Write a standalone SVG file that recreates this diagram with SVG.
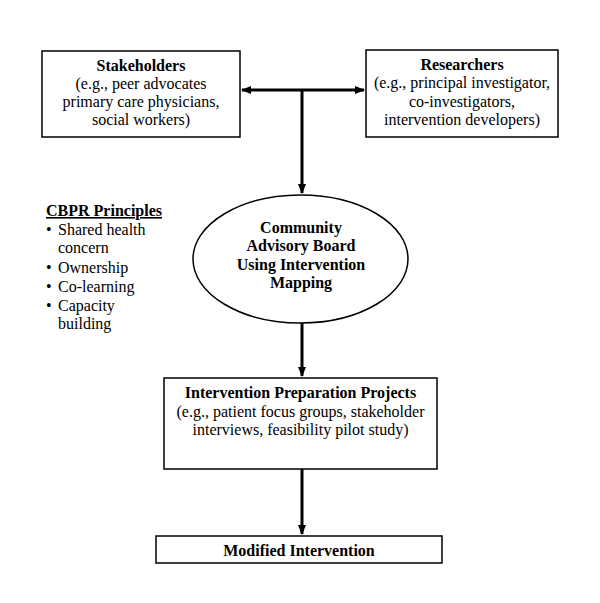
<svg xmlns="http://www.w3.org/2000/svg" width="600" height="603" viewBox="0 0 600 603">
<defs>
<marker id="ah" markerWidth="10" markerHeight="10" refX="9" refY="5" orient="auto" markerUnits="userSpaceOnUse">
<path d="M0,1 L10,5 L0,9 Z" fill="#000"/>
</marker>
<style>
.box{fill:#fff;stroke:#000;stroke-width:1.5}
.t{font-family:"Liberation Serif","Times New Roman",serif;font-size:16px;fill:#000}
.c{text-anchor:middle}
.b{font-weight:bold}
.con{stroke:#000;stroke-width:3;fill:none}
</style>
</defs>
<rect width="600" height="603" fill="#fff"/>
<g id="connectors">
<line class="con" x1="302" y1="90" x2="242" y2="90" marker-end="url(#ah)"/>
<line class="con" x1="302" y1="90" x2="364" y2="90" marker-end="url(#ah)"/>
<line class="con" x1="302" y1="90" x2="302" y2="193" marker-end="url(#ah)"/>
<line class="con" x1="302" y1="323" x2="302" y2="376" marker-end="url(#ah)"/>
<line class="con" x1="302" y1="469" x2="302" y2="534" marker-end="url(#ah)"/>
</g>
<g id="stakeholders">
<rect class="box" x="42" y="51" width="198" height="86"/>
<text class="t c b" x="141" y="71">Stakeholders</text>
<text class="t c" x="141" y="89">(e.g., peer advocates</text>
<text class="t c" x="141" y="107">primary care physicians,</text>
<text class="t c" x="141" y="125">social workers)</text>
</g>
<g id="researchers">
<rect class="box" x="366" y="50" width="192" height="87"/>
<text class="t c b" x="462" y="70">Researchers</text>
<text class="t c" x="462" y="88">(e.g., principal investigator,</text>
<text class="t c" x="462" y="107">co-investigators,</text>
<text class="t c" x="462" y="125">intervention developers)</text>
</g>
<g id="cbpr">
<text class="t b" x="46" y="216" text-decoration="underline">CBPR Principles</text>
<text class="t" x="46" y="235">•</text>
<text class="t" x="58" y="235">Shared health</text>
<text class="t" x="58" y="253">concern</text>
<text class="t" x="46" y="273">•</text>
<text class="t" x="58" y="273">Ownership</text>
<text class="t" x="46" y="292">•</text>
<text class="t" x="58" y="292">Co-learning</text>
<text class="t" x="46" y="311">•</text>
<text class="t" x="58" y="311">Capacity</text>
<text class="t" x="58" y="329">building</text>
</g>
<g id="cab">
<ellipse class="box" cx="300.5" cy="259" rx="107.5" ry="64"/>
<text class="t c b" x="301" y="233">Community</text>
<text class="t c b" x="301" y="251">Advisory Board</text>
<text class="t c b" x="301" y="270">Using Intervention</text>
<text class="t c b" x="301" y="288">Mapping</text>
</g>
<g id="ipp">
<rect class="box" x="164" y="378" width="273" height="91"/>
<text class="t c b" x="300.5" y="398">Intervention Preparation Projects</text>
<text class="t c" x="300.5" y="417">(e.g., patient focus groups, stakeholder</text>
<text class="t c" x="300.5" y="435">interviews, feasibility pilot study)</text>
</g>
<g id="modified">
<rect class="box" x="156" y="536" width="286" height="27"/>
<text class="t c b" x="299" y="556">Modified Intervention</text>
</g>
</svg>
